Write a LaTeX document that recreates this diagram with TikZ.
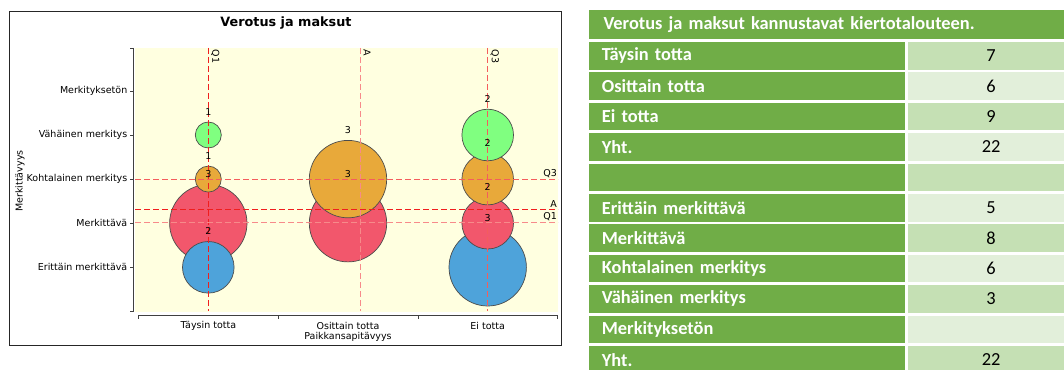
\documentclass[tikz,border=0pt]{standalone}
\usepackage{fontspec}
\setmainfont{DejaVu Sans}
\newfontfamily\tabfont{Carlito}
\usetikzlibrary{positioning}
\definecolor{plotbg}{HTML}{FFFFE0}
\definecolor{bgreen}{HTML}{80FF80}
\definecolor{borange}{HTML}{E8A93A}
\definecolor{bred}{HTML}{F2576C}
\definecolor{bblue}{HTML}{4EA3DA}
\definecolor{tgreen}{HTML}{70AD47}
\definecolor{tlight}{HTML}{C5E0B4}
\definecolor{tpale}{HTML}{E2EFDA}
\definecolor{qred}{HTML}{F01E1E}
\tikzset{
  bubble/.style={circle,draw=black!70,line width=0.7pt,inner sep=0pt},
  b1/.style={bubble,minimum size=26pt},
  b2/.style={bubble,minimum size=51.6pt},
  b3/.style={bubble,minimum size=77.4pt},
  blabel/.style={inner sep=0pt,font=\fontsize{9.5}{10}\selectfont},
  ticklab/.style={inner sep=0pt,font=\fontsize{9.5}{11}\selectfont},
  qline/.style={line width=1pt,dash pattern=on 6pt off 3pt},
  qstrong/.style={qline,draw=qred},
  qmid/.style={qline,draw=qred!72!white},
  qlight/.style={qline,draw=qred!52!white},
  axis/.style={black!75,line width=0.8pt},
  hcell/.style={fill=tgreen,text=white,font={\tabfont\bfseries\fontsize{18.4}{20}\selectfont},minimum height=29.3pt,text width=445.7pt,inner xsep=15pt,inner ysep=0pt,align=left},
  lcell/.style={fill=tgreen,text=white,font={\tabfont\bfseries\fontsize{18.4}{20}\selectfont},minimum height=27.6pt,text width=289.2pt,inner xsep=13.4pt,inner ysep=0pt,align=left},
  vcell/.style={font={\tabfont\fontsize{18.4}{20}\selectfont},minimum height=27.6pt,minimum width=157pt,inner sep=0pt,execute at begin node=\hspace*{10pt}},
  vdark/.style={vcell,fill=tlight},
  vpale/.style={vcell,fill=tpale}
}

\begin{document}
\begin{tikzpicture}[x=1pt,y=-1pt]
  \useasboundingbox (0,0) rectangle (1064,369);
  \draw[black!85,line width=1.2pt] (9.7,11.7) rectangle (561.6,345.7);
  \node[font=\bfseries\fontsize{12.8}{14}\selectfont] (title) at (286,23.5) {Verotus ja maksut};
  \fill[plotbg] (135,48) rectangle (558,311.5);

  \node[b3,fill=bred] (t2) at (208.3,223.2) {};
  \node[b3,fill=bred] (o2) at (348,223.2) {};
  \node[b3,fill=borange] (o3) at (348,179.1) {};
  \node[b3,fill=bblue] (e1) at (487.7,267.3) {};
  \node[b2,fill=bblue] (t1) at (208.3,267.3) {};
  \node[b2,fill=bred] (e2) at (487.7,223.2) {};
  \node[b2,fill=borange] (e3) at (487.7,179.1) {};
  \node[b2,fill=bgreen] (e4) at (487.7,135) {};
  \node[b1,fill=borange] (t3) at (208.3,179.1) {};
  \node[b1,fill=bgreen] (t4) at (208.3,135) {};

  \draw[qstrong] (208.3,48) -- (208.3,311);
  \draw[qlight] (360.7,48) -- (360.7,311);
  \draw[qmid] (487.7,48) -- (487.7,311);
  \draw[qmid] (135,179.3) -- (558,179.3);
  \draw[qstrong] (135,209) -- (558,209);
  \draw[qlight] (135,222.7) -- (558,222.7);
  \node[ticklab,rotate=-90,anchor=south west] (vq1) at (211,49.5) {Q1};
  \node[ticklab,rotate=-90,anchor=south west] (va) at (363.4,49.5) {A};
  \node[ticklab,rotate=-90,anchor=south west] (vq3) at (490.4,49.5) {Q3};
  \node[ticklab,anchor=south east] (hq3) at (557,177.5) {Q3};
  \node[ticklab,anchor=south east] (ha) at (557,207.2) {A};
  \node[ticklab,anchor=south east] (hq1) at (557,220.9) {Q1};

  \node[blabel,above=6pt of t1] (nt1) {2};
  \node[blabel,above=6pt of t2] (nt2) {3};
  \node[blabel,above=6pt of t3] (nt3) {1};
  \node[blabel,above=6pt of t4] (nt4) {1};
  \node[blabel,above=6pt of o2] (no2) {3};
  \node[blabel,above=6pt of o3] (no3) {3};
  \node[blabel,above=6pt of e1] (ne1) {3};
  \node[blabel,above=6pt of e2] (ne2) {2};
  \node[blabel,above=6pt of e3] (ne3) {2};
  \node[blabel,above=6pt of e4] (ne4) {2};

  \draw[axis] (133.5,48) -- (133.5,311);
  \foreach \y in {48,90.9,135,179.1,223.2,267.3,311}
    \draw[axis] (133.5,\y) -- (129.5,\y);
  \draw[axis] (138.3,315) -- (558,315);
  \foreach \x in {138.3,278.1,418,557.8}
    \draw[axis] (\x,315) -- (\x,318.5);
  \node[ticklab,anchor=east] (y5) at (127.5,90.9) {Merkityksetön};
  \node[ticklab,anchor=east] (y4) at (127.5,135) {Vähäinen merkitys};
  \node[ticklab,anchor=east] (y3) at (127.5,179.1) {Kohtalainen merkitys};
  \node[ticklab,anchor=east] (y2) at (127.5,223.2) {Merkittävä};
  \node[ticklab,anchor=east] (y1) at (127.5,267.3) {Erittäin merkittävä};
  \node[ticklab,rotate=90] (ytitle) at (20,181) {Merkittävyys};
  \node[ticklab] (x1) at (208.3,325.5) {Täysin totta};
  \node[ticklab] (x2) at (348,325.5) {Osittain totta};
  \node[ticklab] (x3) at (487.7,325.5) {Ei totta};
  \node[ticklab] (xtitle) at (348,337) {Paikkansapitävyys};

  \node[hcell,anchor=north west] (head) at (588.3,10) {Verotus ja maksut kannustavat kiertotalouteen.};
  \node[lcell,anchor=north west] (r1) at (588.3,41.7) {Täysin totta};
  \node[lcell,below=2.4pt of r1] (r2) {Osittain totta};
  \node[lcell,below=2.4pt of r2] (r3) {Ei totta};
  \node[lcell,below=2.4pt of r3] (r4) {Yht.};
  \node[lcell,below=2.4pt of r4] (r5) {};
  \node[lcell,below=2.4pt of r5] (r6) {Erittäin merkittävä};
  \node[lcell,below=2.4pt of r6] (r7) {Merkittävä};
  \node[lcell,below=2.4pt of r7] (r8) {Kohtalainen merkitys};
  \node[lcell,below=2.4pt of r8] (r9) {Vähäinen merkitys};
  \node[lcell,below=2.4pt of r9] (r10) {Merkityksetön};
  \node[lcell,below=2.4pt of r10] (r11) {Yht.};
  \node[vdark,right=2.7pt of r1] (v1) {7};
  \node[vpale,right=2.7pt of r2] (v2) {6};
  \node[vdark,right=2.7pt of r3] (v3) {9};
  \node[vpale,right=2.7pt of r4] (v4) {22};
  \node[vdark,right=2.7pt of r5] (v5) {};
  \node[vpale,right=2.7pt of r6] (v6) {5};
  \node[vdark,right=2.7pt of r7] (v7) {8};
  \node[vpale,right=2.7pt of r8] (v8) {6};
  \node[vdark,right=2.7pt of r9] (v9) {3};
  \node[vpale,right=2.7pt of r10] (v10) {};
  \node[vdark,right=2.7pt of r11] (v11) {22};
\end{tikzpicture}
\end{document}
